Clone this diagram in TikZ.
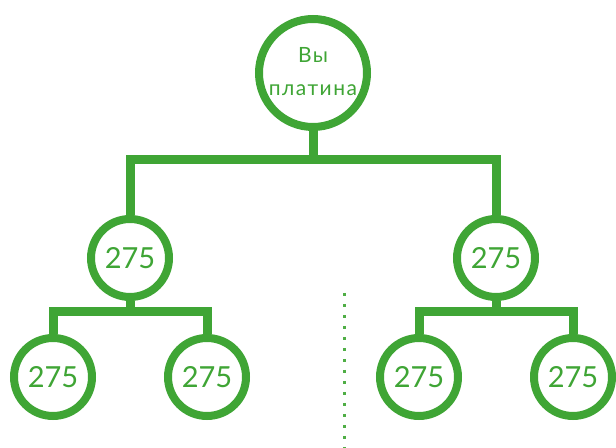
\documentclass[tikz,border=0pt]{standalone}
\usepackage{fontspec}
\setmainfont{Lato}
\definecolor{treegreen}{HTML}{3FA535}
\definecolor{dotgreen}{HTML}{4FAE45}
\begin{document}
\begin{tikzpicture} [
  grow=down,
  level 1/.style= {level distance=92.5pt,sibling distance=183pt,
    edge from parent path={(\tikzparentnode.south) -- ++(0,-14.5pt) -| (\tikzchildnode.north)}},
  level 2/.style= {level distance=59.5pt,sibling distance=77pt,
    edge from parent path={(\tikzparentnode.south) -- ++(0,-5.5pt) -| (\tikzchildnode.north)}},
  edge from parent/.style= {draw=treegreen,line width=4.5pt},
  sum node/.style= {circle,draw=treegreen,line width=4pt,fill=white,minimum size=39pt,inner sep=0,
    text=treegreen,font=\fontsize{14.5}{16}\selectfont},
  you node/.style= {circle,draw=treegreen,line width=4pt,fill=white,minimum size=54pt,inner sep=0,
    text=treegreen,align=center,font=\fontsize{10.5}{16.5}\selectfont\addfontfeature{LetterSpace=7}},
  divider/.style= {dotgreen,line width=1.5pt,dash pattern=on 1.5pt off 4pt},
]
\useasboundingbox (0,0) rectangle (308pt,-224pt);
\draw [divider] (172pt,-146.5pt) -- (172pt,-224pt);
\node (you) [you node] at (156.5pt,-36.5pt) {\raisebox{2pt}{Вы}\\\raisebox{2pt}{платина}}
  child {node (L) [sum node] {275}
    child {node (LL) [sum node] {275}}
    child {node (LR) [sum node] {275}}}
  child {node (R) [sum node] {275}
    child {node (RL) [sum node] {275}}
    child {node (RR) [sum node] {275}}};
\end{tikzpicture}
\end{document}
